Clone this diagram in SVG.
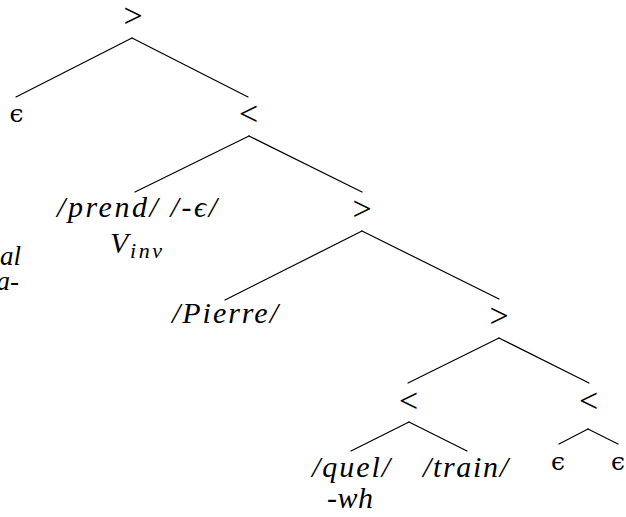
<svg xmlns="http://www.w3.org/2000/svg" width="626" height="517" viewBox="0 0 626 517">
<defs>
<style>
line{stroke:#000;stroke-width:1.2;stroke-linecap:round}
text{fill:#000}
</style>
</defs>
<rect width="626" height="517" fill="#fff"/>
<g id="connectors">
<line x1="132" y1="38" x2="16" y2="97"/>
<line x1="132" y1="38" x2="248" y2="97"/>
<line x1="249" y1="136" x2="135" y2="192"/>
<line x1="249" y1="136" x2="362" y2="192"/>
<line x1="362" y1="231" x2="225" y2="300"/>
<line x1="362" y1="231" x2="499" y2="299"/>
<line x1="499" y1="338" x2="408" y2="383"/>
<line x1="499" y1="338" x2="589" y2="383"/>
<line x1="409" y1="422" x2="351" y2="451"/>
<line x1="409" y1="422" x2="467" y2="451"/>
<line x1="588" y1="429" x2="559" y2="444"/>
<line x1="588" y1="429" x2="618" y2="444"/>
</g>
<g font-family="Liberation Serif, serif" font-size="34" text-anchor="middle">
<g id="n_root"><text x="133" y="27">&gt;</text></g>
<g id="n_lt1"><text x="248.5" y="124.5">&lt;</text></g>
<g id="n_gt2"><text x="362" y="220">&gt;</text></g>
<g id="n_gt3"><text x="499" y="327">&gt;</text></g>
<g id="n_lt4"><text x="408.5" y="412">&lt;</text></g>
<g id="n_lt5"><text x="588.5" y="412">&lt;</text></g>
</g>
<g font-family="DejaVu Serif, serif" font-size="25" text-anchor="middle">
<g id="n_eps1"><text x="16.5" y="122">ϵ</text></g>
<g id="n_eps2"><text x="558" y="470">ϵ</text></g>
<g id="n_eps3"><text x="618" y="470">ϵ</text></g>
</g>
<g font-family="Liberation Serif, serif" font-style="italic" font-size="30">
<g id="n_prend"><text x="57" y="217" textLength="160" lengthAdjust="spacing">/prend/ /-ϵ/</text>
<text x="110" y="253">V</text><text x="130" y="258" font-size="22" textLength="32" lengthAdjust="spacing">inv</text></g>
<g id="n_cut"><text x="21" y="265" text-anchor="end" font-size="27">al</text><text x="19" y="290" text-anchor="end" font-size="27">a-</text></g>
<g id="n_pierre"><text x="172" y="323" textLength="106" lengthAdjust="spacing">/Pierre/</text></g>
<g id="n_quel"><text x="312" y="477" textLength="78" lengthAdjust="spacing">/quel/</text>
<text x="327" y="508" textLength="46" lengthAdjust="spacing">-wh</text></g>
<g id="n_train"><text x="423" y="477" textLength="85" lengthAdjust="spacing">/train/</text></g>
</g>
</svg>
